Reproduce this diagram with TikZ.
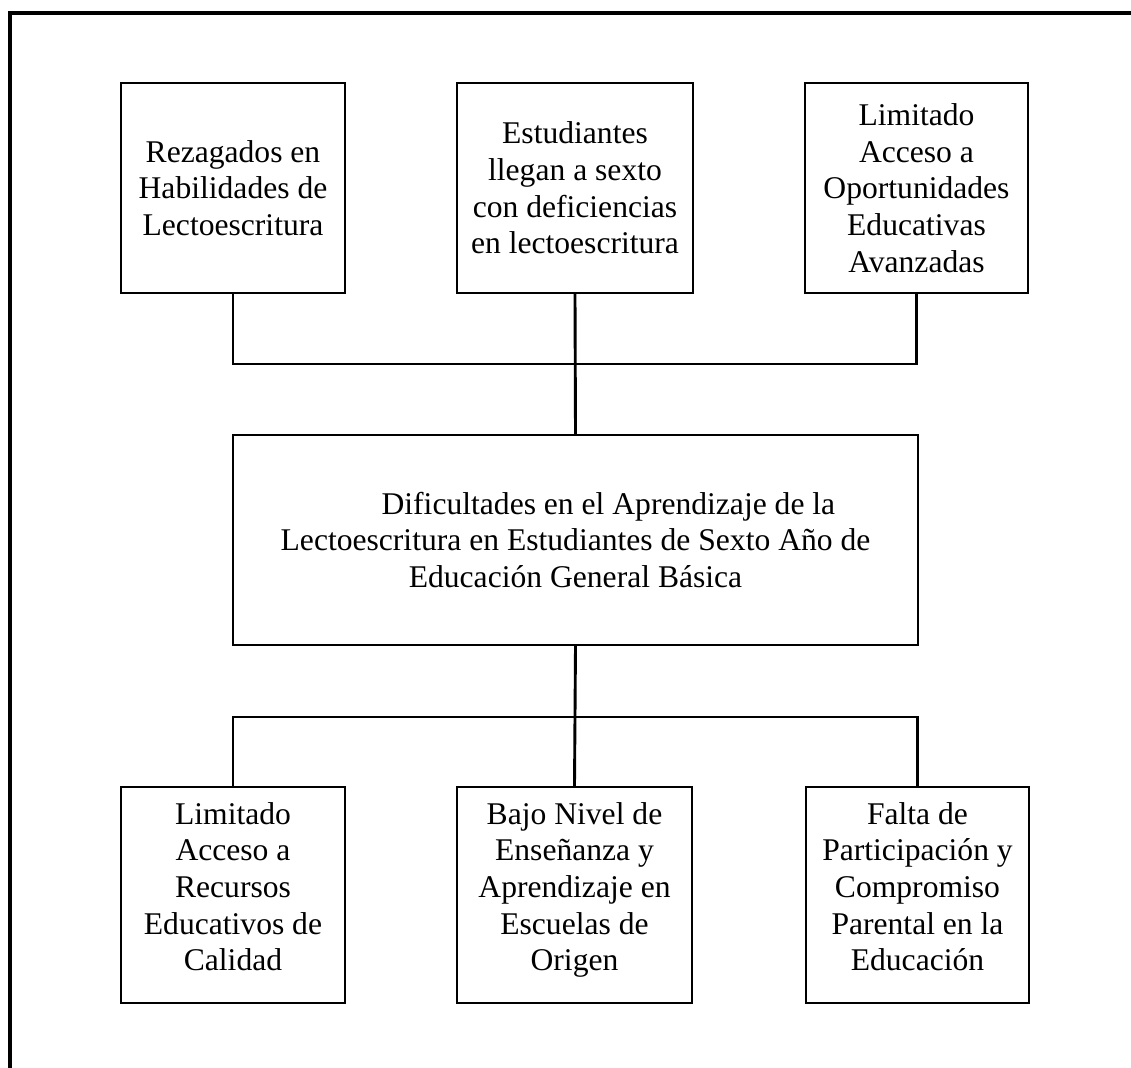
\documentclass[tikz,border=0pt]{standalone}
\usepackage{fontspec}
\setmainfont{Liberation Serif}
\usepackage{tikz}
\usetikzlibrary{calc}

\newcommand{\pxu}{0.37975pt}

\begin{document}
\begin{tikzpicture}[x=\pxu, y=-\pxu,
  box/.style={draw, line width=0.8pt, align=center, inner sep=0pt,
    minimum height=210*\pxu, font=\fontsize{12}{13.9}\selectfont},
  causebox/.style={box, minimum height=216*\pxu, text depth=6.5pt},
  link/.style={line width=1.1pt}]
\useasboundingbox (0,0) rectangle (1131,1068);

% page frame
\draw[line width=1.3pt] (10,1068) -- (10,13) -- (1131,13);

% effects
\node[box, minimum width=224*\pxu] (tl) at (233,188) {Rezagados en\\Habilidades de\\Lectoescritura};
\node[box, minimum width=236*\pxu] (tm) at (575,188) {Estudiantes\\llegan a sexto\\con deficiencias\\en lectoescritura};
\node[box, minimum width=223*\pxu] (tr) at (916.5,188) {Limitado\\Acceso a\\Oportunidades\\Educativas\\Avanzadas};

% problem
\node[box, minimum width=685*\pxu] (mid) at (575.5,540) {\hspace*{25pt}Dificultades en el Aprendizaje de la\\Lectoescritura en Estudiantes de Sexto Año de\\Educación General Básica};

% causes
\node[causebox, minimum width=224*\pxu] (bl) at (233,895) {Limitado\\Acceso a\\Recursos\\Educativos de\\Calidad};
\node[causebox, minimum width=235*\pxu] (bm) at (574.5,895) {Bajo Nivel de\\Enseñanza y\\Aprendizaje en\\Escuelas de\\Origen};
\node[causebox, minimum width=223*\pxu] (br) at (917.5,895) {Falta de\\Participación y\\Compromiso\\Parental en la\\Educación};

\coordinate (jt) at (575,364);
\coordinate (jb) at (575,717);

\draw[link] (tl.south) |- (jt) -| (tr.south);
\draw[link] (tm.south) -- (mid.north);
\draw[link] (mid.south) -- (bm.north);
\draw[link] (bl.north) |- (jb) -| (br.north);
\end{tikzpicture}
\end{document}
